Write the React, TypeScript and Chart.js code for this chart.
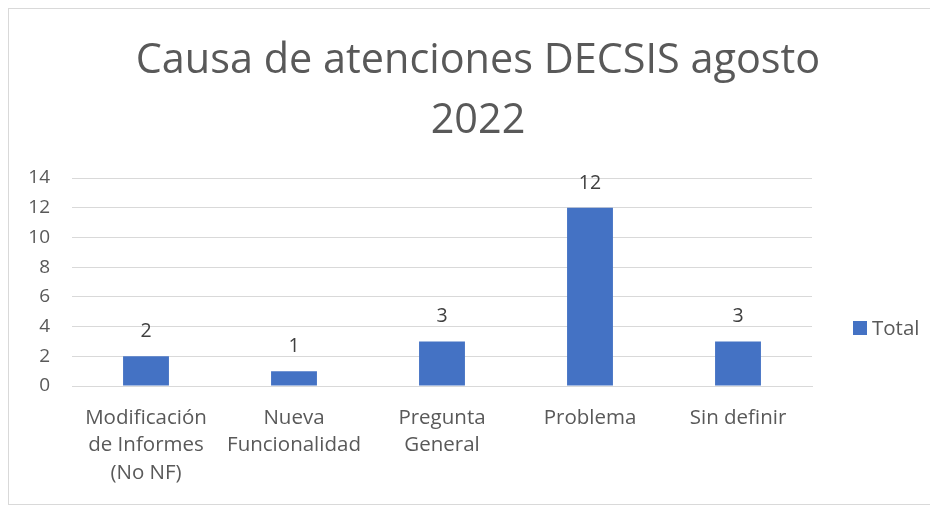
import React, { useEffect, useRef } from "react";
import { Chart, registerables } from "chart.js";

Chart.register(...registerables);

const titleLines = ["Causa de atenciones DECSIS agosto", "2022"];
const categories = [
  ["Modificación", "de Informes", "(No NF)"],
  ["Nueva", "Funcionalidad"],
  ["Pregunta", "General"],
  ["Problema"],
  ["Sin definir"],
];
const seriesName = "Total";
const values = [2, 1, 3, 12, 3];
const yMin = 0;
const yMax = 14;
const yStep = 2;

const FONT = "'Open Sans', sans-serif";
const TEXT = "#595959";
const BAR = "#4472C4";

const chartTitle = {
  id: "chartTitle",
  afterDraw(chart: any) {
    const ctx = chart.ctx;
    ctx.save();
    ctx.font = `41.4px ${FONT}`;
    ctx.fillStyle = TEXT;
    ctx.textAlign = "center";
    ctx.textBaseline = "alphabetic";
    titleLines.forEach((line, i) => {
      ctx.fillText(line, 469, 64 + i * 60);
    });
    ctx.restore();
  },
};

const dataLabels = {
  id: "dataLabels",
  afterDatasetsDraw(chart: any) {
    const ctx = chart.ctx;
    ctx.save();
    ctx.font = `19.5px ${FONT}`;
    ctx.fillStyle = "#404040";
    ctx.textAlign = "center";
    ctx.textBaseline = "alphabetic";
    chart.data.datasets.forEach((ds: any, di: number) => {
      const meta = chart.getDatasetMeta(di);
      meta.data.forEach((el: any, i: number) => {
        ctx.fillText(String(ds.data[i]), el.x, el.y - 19);
      });
    });
    ctx.restore();
  },
};

const sideLegend = {
  id: "sideLegend",
  afterDraw(chart: any) {
    const ctx = chart.ctx;
    const ds = chart.data.datasets[0];
    const x = chart.chartArea.right + 41;
    const y = 319;
    ctx.save();
    ctx.fillStyle = ds.backgroundColor;
    ctx.fillRect(x, y - 7, 14, 14);
    ctx.font = `20.5px ${FONT}`;
    ctx.fillStyle = TEXT;
    ctx.textAlign = "left";
    ctx.textBaseline = "middle";
    ctx.fillText(ds.label, x + 19, y + 1);
    ctx.restore();
  },
};

export default function App() {
  const ref = useRef<HTMLCanvasElement>(null);
  useEffect(() => {
    if (!ref.current) return;
    const chart = new Chart(ref.current, {
      type: "bar",
      data: {
        labels: categories,
        datasets: [
          {
            label: seriesName,
            data: values,
            backgroundColor: BAR,
            categoryPercentage: 1,
            barPercentage: 0.31,
          },
        ],
      },
      options: {
        animation: false,
        responsive: false,
        maintainAspectRatio: false,
        layout: { padding: { left: 0, right: 124, top: 169, bottom: 0 } },
        plugins: {
          legend: { display: false },
          tooltip: { enabled: false },
          title: { display: false },
        },
        scales: {
          x: {
            grid: { display: false, drawTicks: false },
            border: { display: true, color: "#d9d9d9" },
            ticks: {
              color: TEXT,
              font: { family: FONT, size: 20.5, lineHeight: 1.34 },
              padding: 18,
              maxRotation: 0,
              autoSkip: false,
            },
            afterFit(scale: any) {
              scale.height = 118;
            },
          },
          y: {
            min: yMin,
            max: yMax,
            grid: { color: "#d9d9d9", drawTicks: false },
            border: { display: false },
            ticks: {
              stepSize: yStep,
              color: TEXT,
              font: { family: FONT, size: 19 },
              padding: 22,
            },
            afterFit(scale: any) {
              scale.width = 63;
            },
          },
        },
      },
      plugins: [dataLabels, sideLegend, chartTitle],
    });
    return () => chart.destroy();
  }, []);
  return (
    <div
      style={{
        width: 927,
        height: 495,
        border: "1px solid #d9d9d9",
        background: "#fff",
      }}
    >
      <canvas ref={ref} width={927} height={495} style={{ display: "block" }} />
    </div>
  );
}
